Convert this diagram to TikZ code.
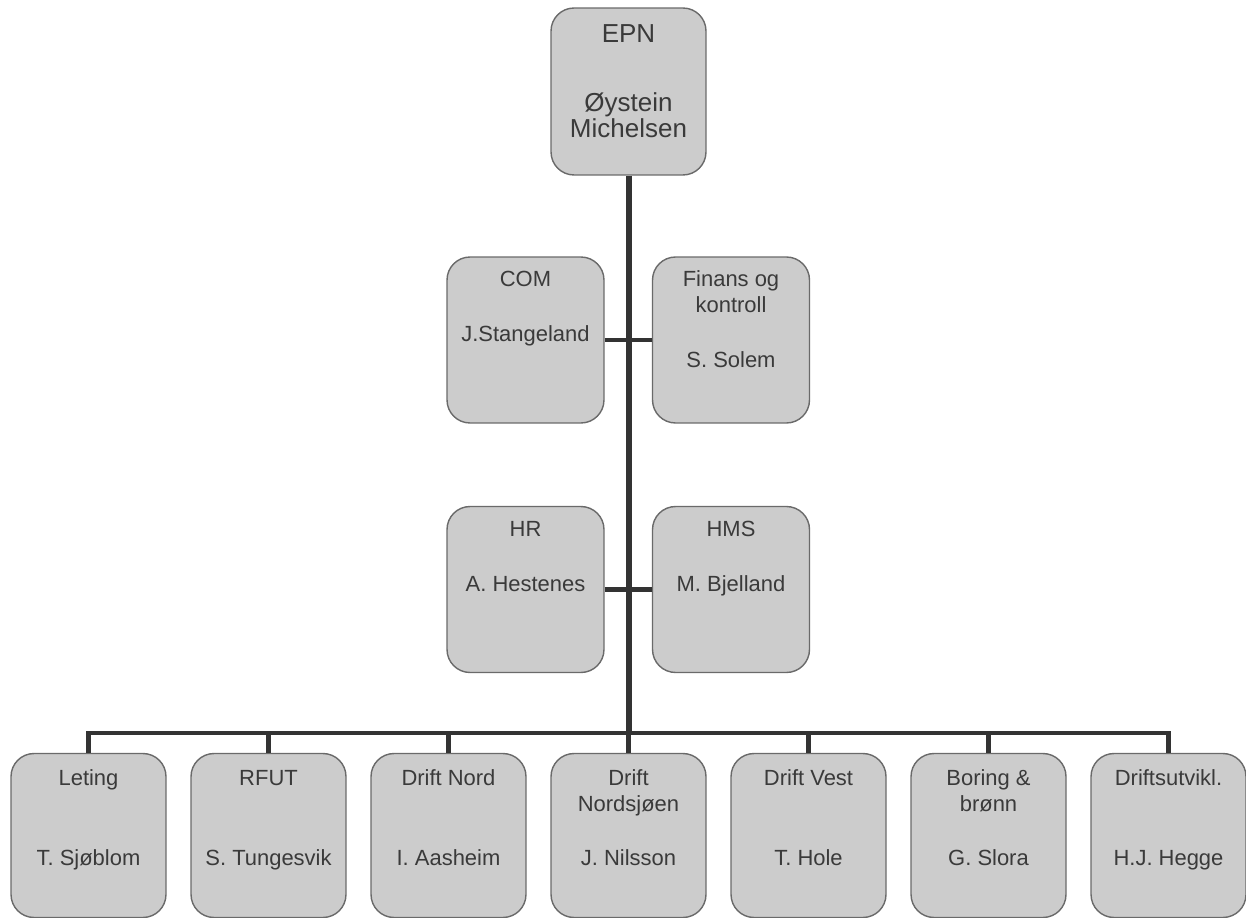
\documentclass[tikz,border=0pt]{standalone}
\usepackage{fontspec}
\setmainfont{Liberation Sans}
\definecolor{boxfill}{HTML}{CCCCCC}
\definecolor{boxline}{HTML}{6A6A6A}
\definecolor{ink}{HTML}{3A3A3A}
\definecolor{wirecol}{HTML}{333333}

\begin{document}
\begin{tikzpicture}[x=0.02cm,y=-0.02cm,
  unit/.style={draw=boxline,fill=boxfill,line width=0.8pt,rounded corners=0.46cm,inner sep=0pt,minimum width=3.1cm,minimum height=3.28cm},
  staff/.style={unit,minimum width=3.14cm,minimum height=3.32cm},
  head/.style={unit,minimum height=3.34cm},
  txt/.style={anchor=base,inner sep=0pt,text=ink,font=\fontsize{12.5}{15}\selectfont},
  bigtxt/.style={txt,font=\fontsize{14.8}{18}\selectfont},
  trunk/.style={draw=wirecol,line width=0.12cm},
  wire/.style={draw=wirecol,line width=0.09cm,line join=miter}]
\useasboundingbox (0,0) rectangle (1246,918);
\coordinate (bus) at (628.5,733);
\node[head] (epn) at (628.5,91.5) {};
\node[staff] (com) at (525.5,340) {};
\node[staff] (fin) at (731,340) {};
\node[staff] (hr) at (525.5,589.5) {};
\node[staff] (hms) at (731,589.5) {};
\node[unit] (let) at (88.5,835.5) {};
\node[unit] (rfut) at (268.5,835.5) {};
\node[unit] (dno) at (448.5,835.5) {};
\node[unit] (dns) at (628.5,835.5) {};
\node[unit] (dve) at (808.5,835.5) {};
\node[unit] (bor) at (988.5,835.5) {};
\node[unit] (dut) at (1168.5,835.5) {};
\draw[trunk] (epn.south) -- (bus);
\draw[wire] (com.east) -- (fin.west);
\draw[wire] (hr.east) -- (hms.west);
\draw[wire] (let.north) -- (let.north |- bus) -- (dut.north |- bus) -- (dut.north);
\draw[wire] (rfut.north) -- (rfut.north |- bus);
\draw[wire] (dno.north) -- (dno.north |- bus);
\draw[wire] (dns.north) -- (dns.north |- bus);
\draw[wire] (dve.north) -- (dve.north |- bus);
\draw[wire] (bor.north) -- (bor.north |- bus);
\node[bigtxt] (epn-t) at (628.5,43) {EPN};
\node[bigtxt] (epn-p) at (628.5,112) {Øystein};
\node[bigtxt] (epn-q) at (628.5,138) {Michelsen};
\node[txt] (com-t) at (525.5,287) {COM};
\node[txt] (com-p) at (525.5,342) {J.Stangeland};
\node[txt] (fin-t) at (731,287) {Finans og};
\node[txt] (fin-u) at (731,313) {kontroll};
\node[txt] (fin-p) at (731,368) {S. Solem};
\node[txt] (hr-t) at (525.5,536) {HR};
\node[txt] (hr-p) at (525.5,591) {A. Hestenes};
\node[txt] (hms-t) at (731,536) {HMS};
\node[txt] (hms-p) at (731,591) {M. Bjelland};
\node[txt] (let-t) at (88.5,785) {Leting};
\node[txt] (let-p) at (88.5,865) {T. Sjøblom};
\node[txt] (rfut-t) at (268.5,785) {RFUT};
\node[txt] (rfut-p) at (268.5,865) {S. Tungesvik};
\node[txt] (dno-t) at (448.5,785) {Drift Nord};
\node[txt] (dno-p) at (448.5,865) {I. Aasheim};
\node[txt] (dns-t) at (628.5,785) {Drift};
\node[txt] (dns-u) at (628.5,811) {Nordsjøen};
\node[txt] (dns-p) at (628.5,865) {J. Nilsson};
\node[txt] (dve-t) at (808.5,785) {Drift Vest};
\node[txt] (dve-p) at (808.5,865) {T. Hole};
\node[txt] (bor-t) at (988.5,785) {Boring \&};
\node[txt] (bor-u) at (988.5,811) {brønn};
\node[txt] (bor-p) at (988.5,865) {G. Slora};
\node[txt] (dut-t) at (1168.5,785) {Driftsutvikl.};
\node[txt] (dut-p) at (1168.5,865) {H.J. Hegge};
\end{tikzpicture}
\end{document}
